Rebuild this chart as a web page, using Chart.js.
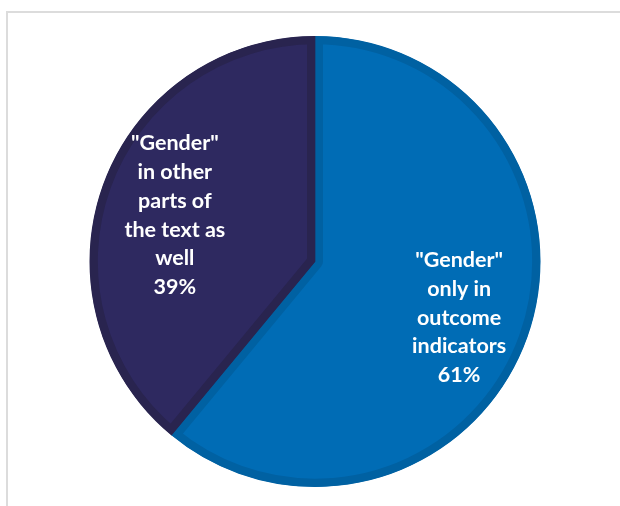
<!DOCTYPE html>
<html>
<head>
<meta charset="utf-8">
<script src="https://cdn.jsdelivr.net/npm/chart.js@4"></script>
<style>
  html, body { margin: 0; padding: 0; background: #fff; }
  #wrap { position: relative; width: 620px; height: 506px; }
  #frame {
    position: absolute; left: 6px; top: 11px; right: -4px; bottom: -4px;
    border-top: 2px solid #dcdcdc; border-left: 2px solid #dcdcdc;
  }
  #chart { position: absolute; left: 0; top: 0; }
</style>
</head>
<body>
<div id="wrap">
  <div id="frame"></div>
  <canvas id="chart" width="620" height="506"></canvas>
</div>
<script>
// --- data ---
const sliceNames = ['"Gender" only in outcome indicators', '"Gender" in other parts of the text as well'];
const shares = [61, 39];
const labelLines = [
  ['"Gender"', 'only in', 'outcome', 'indicators'],
  ['"Gender"', 'in other', 'parts of', 'the text as', 'well']
];
const fillColors = ['#006cb5', '#2e2960'];
const edgeColors = ['#0061a2', '#29244f'];

// white multi-line labels inside each slice
const sliceLabels = {
  id: 'sliceLabels',
  afterDatasetsDraw(chart) {
    const ctx = chart.ctx;
    const meta = chart.getDatasetMeta(0);
    ctx.save();
    ctx.fillStyle = '#ffffff';
    ctx.font = 'bold 21.5px Lato, "Open Sans", sans-serif';
    ctx.textAlign = 'center';
    ctx.textBaseline = 'middle';
    const lh = 28.8;
    meta.data.forEach((arc, i) => {
      const p = arc.getProps(['x', 'y', 'startAngle', 'endAngle', 'outerRadius'], true);
      const mid = (p.startAngle + p.endAngle) / 2;
      const r = p.outerRadius * 0.67;
      const cx = p.x + Math.cos(mid) * r + 2;
      const cy = p.y + Math.sin(mid) * r + 5;
      const lines = labelLines[i].concat([shares[i] + '%']);
      const top = cy - (lines.length - 1) * lh / 2;
      lines.forEach((t, k) => ctx.fillText(t, cx, top + k * lh));
    });
    ctx.restore();
  }
};

new Chart(document.getElementById('chart'), {
  type: 'pie',
  data: {
    labels: sliceNames,
    datasets: [{
      data: shares,
      backgroundColor: fillColors,
      borderColor: edgeColors,
      borderWidth: 8,
      borderAlign: 'inner'
    }]
  },
  options: {
    responsive: false,
    animation: false,
    layout: { padding: { left: 10, right: 0, top: 36, bottom: 19 } },
    plugins: { legend: { display: false }, tooltip: { enabled: false } }
  },
  plugins: [sliceLabels]
});
</script>
</body>
</html>
